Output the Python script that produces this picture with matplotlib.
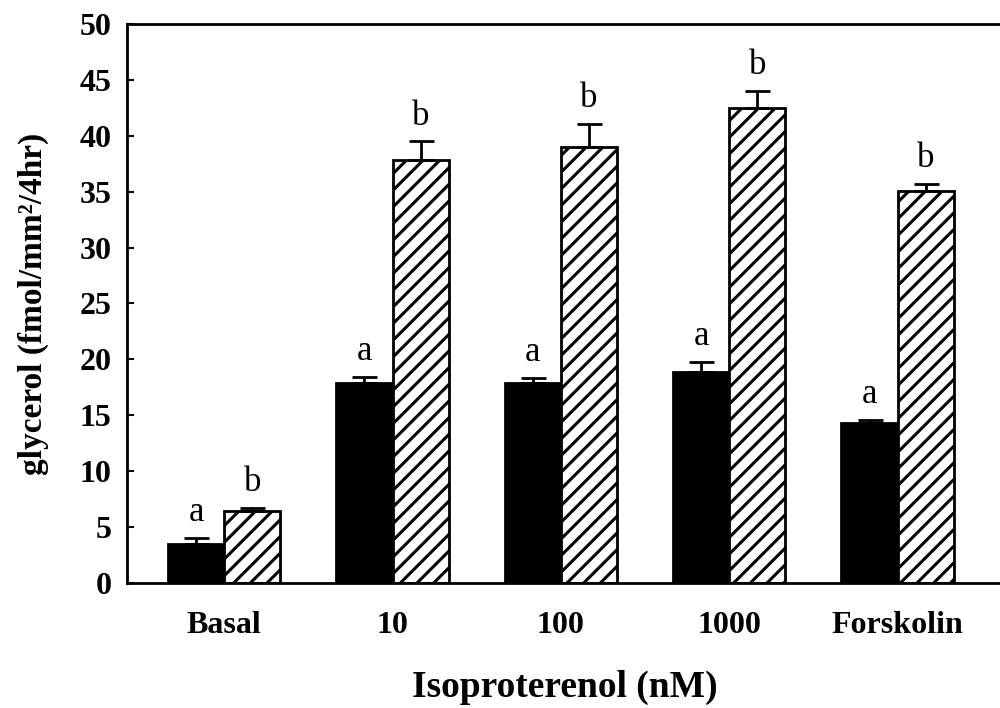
import numpy as np
import matplotlib
matplotlib.use("Agg")
import matplotlib.pyplot as plt

# glycerol release per group, two conditions (solid / hatched)
groups = ["Basal", "10", "100", "1000", "Forskolin"]
solid_vals = [3.5, 17.9, 17.9, 18.9, 14.3]
solid_err = [0.5, 0.55, 0.45, 0.9, 0.3]
hatch_vals = [6.4, 37.8, 39.0, 42.5, 35.1]
hatch_err = [0.35, 1.7, 2.05, 1.55, 0.6]
solid_marks = ["a", "a", "a", "a", "a"]
hatch_marks = ["b", "b", "b", "b", "b"]

plt.rcParams["font.family"] = ["Liberation Serif", "DejaVu Serif"]
plt.rcParams["hatch.linewidth"] = 2.2

fig = plt.figure(figsize=(10, 7.08), dpi=100)
ax = fig.add_axes([0.127, 0.1766, 0.875, 0.7895])

x = np.arange(len(groups))
w = 1 / 3
ekw = dict(ecolor="black", elinewidth=2, capsize=9, capthick=2)

ax.bar(x - w / 2, solid_vals, w, color="black", edgecolor="black", linewidth=2,
       yerr=[np.zeros(len(groups)), solid_err], error_kw=ekw, zorder=2)
ax.bar(x + w / 2, hatch_vals, w, color="white", edgecolor="black", linewidth=2,
       hatch="//", yerr=[np.zeros(len(groups)), hatch_err], error_kw=ekw,
       zorder=2)

for i in range(len(groups)):
    ax.text(x[i] - w / 2, solid_vals[i] + solid_err[i] + 1.5, solid_marks[i],
            ha="center", va="baseline", fontsize=25)
    ax.text(x[i] + w / 2, hatch_vals[i] + hatch_err[i] + 1.5, hatch_marks[i],
            ha="center", va="baseline", fontsize=25)

ax.set_xlim(-0.577, 4.62)
ax.set_ylim(0, 50)
ax.set_yticks(np.arange(0, 51, 5))
ax.set_xticks(x)
ax.set_xticklabels(groups, fontsize=23, fontweight="bold")
ax.tick_params(axis="x", length=0, pad=20)
ax.tick_params(axis="y", direction="in", length=5, width=1.5, pad=11,
               labelsize=23)
for lbl in ax.get_yticklabels():
    lbl.set_fontweight("bold")

for side in ["left", "bottom", "top"]:
    ax.spines[side].set_linewidth(2)
ax.spines["right"].set_visible(False)

ax.set_ylabel("glycerol (fmol/mm\u00b2/4hr)", fontsize=24,
              fontweight="bold", labelpad=22)
ax.set_xlabel("Isoproterenol (nM)", fontsize=27, fontweight="bold",
              labelpad=22)

fig.savefig("out.png", dpi=100)
